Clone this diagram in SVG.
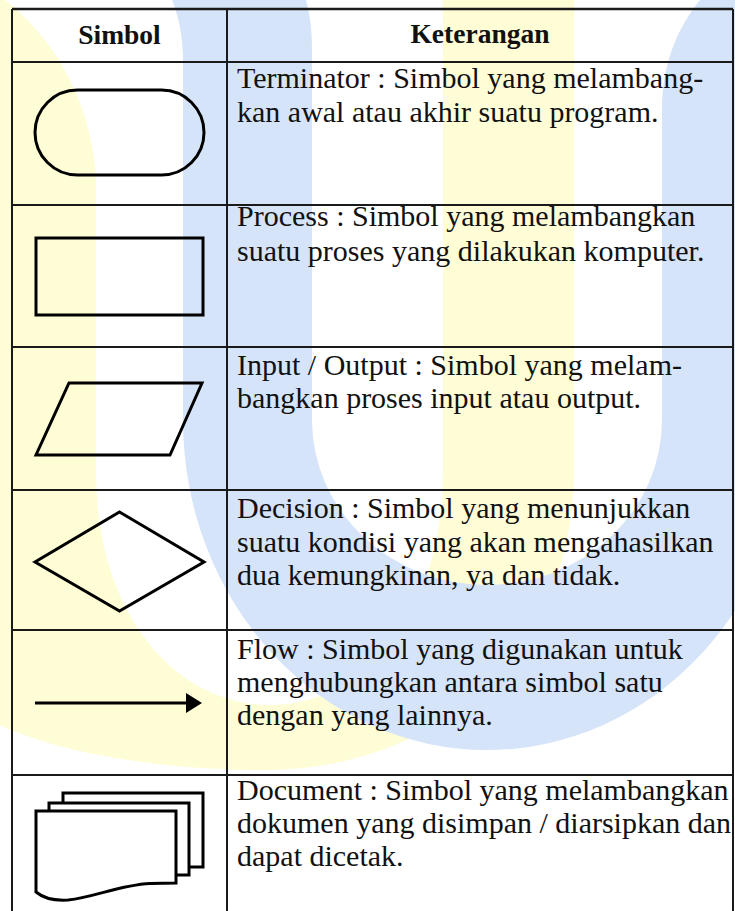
<svg xmlns="http://www.w3.org/2000/svg" width="735" height="911" viewBox="0 0 735 911">
<defs>
<style>
.bg-y{fill:#FFFDD6}
.bg-b{fill:#D6E4F9}
.grid{stroke:#1a1a1a;stroke-width:2;fill:none}
.sym{stroke:#000;stroke-width:3;fill:none;stroke-linejoin:miter}
.doc{stroke:#000;stroke-width:3;fill:#fff;stroke-linejoin:miter}
.hd{font-family:"Liberation Serif","Times New Roman",serif;font-weight:bold;font-size:27.5px;fill:#111;text-anchor:middle}
.tx{font-family:"Liberation Serif","Times New Roman",serif;font-size:30px;fill:#111}
</style>
</defs>
<rect x="0" y="0" width="735" height="911" fill="#fff"/>
<g id="watermark">
<path class="bg-y" d="M-40,0 L5,0 C50,35 90,95 96,175 L96,470 C96,620 180,705 270,705 C360,705 443,620 443,470 L443,0 L574,0 L574,470 C574,660 430,770 265,770 C150,770 40,750 -20,715 L-40,715 Z"/>
<path class="bg-b" d="M172,0 L306,0 C310,15 312,30 312,50 L312,420 A175,165 0 0 0 662,420 L662,110 C662,60 680,25 700,0 L791,0 L791,420 A304,330 0 0 1 183,420 L183,60 C183,35 178,15 172,0 Z"/>
</g>
<g id="table-grid">
<line class="grid" x1="12" y1="9" x2="733" y2="9" style="stroke-width:2.5"/>
<line class="grid" x1="12" y1="9" x2="12" y2="911"/>
<line class="grid" x1="733" y1="9" x2="733" y2="911"/>
<line class="grid" x1="227" y1="9" x2="227" y2="911"/>
<line class="grid" x1="12" y1="62" x2="733" y2="62"/>
<line class="grid" x1="12" y1="205" x2="733" y2="205"/>
<line class="grid" x1="12" y1="347" x2="733" y2="347"/>
<line class="grid" x1="12" y1="490" x2="733" y2="490"/>
<line class="grid" x1="12" y1="630" x2="733" y2="630"/>
<line class="grid" x1="12" y1="775" x2="733" y2="775"/>
</g>
<g id="header">
<text class="hd" x="119.5" y="44">Simbol</text>
<text class="hd" x="480" y="43">Keterangan</text>
</g>
<g id="terminator">
<rect class="sym" x="35" y="90" width="169" height="85" rx="42.5" ry="42.5"/>
<text class="tx" x="237" y="88">Terminator : Simbol yang melambang-</text>
<text class="tx" x="237" y="122">kan awal atau akhir suatu program.</text>
</g>
<g id="process">
<rect class="sym" x="36" y="238" width="167" height="77"/>
<text class="tx" x="237" y="226">Process : Simbol yang melambangkan</text>
<text class="tx" x="237" y="261">suatu proses yang dilakukan komputer.</text>
</g>
<g id="input-output">
<polygon class="sym" points="69,383 202,383 170,455 36,455"/>
<text class="tx" x="237" y="375">Input / Output : Simbol yang melam-</text>
<text class="tx" x="237" y="408">bangkan proses input atau output.</text>
</g>
<g id="decision">
<polygon class="sym" points="119.5,512 204,562 119.5,611 35,562"/>
<text class="tx" x="237" y="518">Decision : Simbol yang menunjukkan</text>
<text class="tx" x="237" y="552">suatu kondisi yang akan mengahasilkan</text>
<text class="tx" x="237" y="585">dua kemungkinan, ya dan tidak.</text>
</g>
<g id="flow">
<line class="sym" x1="35" y1="703" x2="188" y2="703"/>
<polygon points="186,693 202,703 186,713" fill="#000"/>
<text class="tx" x="237" y="659">Flow : Simbol yang digunakan untuk</text>
<text class="tx" x="237" y="692">menghubungkan antara simbol satu</text>
<text class="tx" x="237" y="725">dengan yang lainnya.</text>
</g>
<g id="document">
<rect class="doc" x="63" y="793" width="140" height="74"/>
<rect class="doc" x="49" y="803" width="140" height="72"/>
<path class="doc" d="M36,811 H176 V883 L150,883.5 C120,885 95,897 68,900 C52,901 42,897 36,892 Z"/>
<text class="tx" x="237" y="800">Document : Simbol yang melambangkan</text>
<text class="tx" x="237" y="833">dokumen yang disimpan / diarsipkan dan</text>
<text class="tx" x="237" y="866">dapat dicetak.</text>
</g>
<g id="connectors"></g>
</svg>
